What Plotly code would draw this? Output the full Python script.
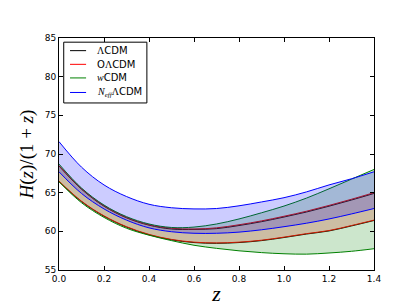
import plotly.graph_objects as go

z = [0.0, 0.1, 0.2, 0.3, 0.4, 0.5, 0.6, 0.7, 0.8, 0.9, 1.0, 1.1, 1.2, 1.3, 1.4]

lcdm_lo = [66.45, 63.85, 61.95, 60.55, 59.55, 58.9, 58.55, 58.45, 58.55, 58.8, 59.2, 59.65, 60.05, 60.7, 61.4]
lcdm_hi = [68.45, 65.45, 63.25, 61.75, 60.8, 60.3, 60.25, 60.35, 60.75, 61.25, 61.85, 62.5, 63.25, 64.05, 64.9]
olcdm_lo = [66.5, 63.9, 62.0, 60.6, 59.6, 58.95, 58.6, 58.5, 58.6, 58.85, 59.25, 59.7, 60.1, 60.75, 61.45]
olcdm_hi = [68.5, 65.5, 63.3, 61.8, 60.85, 60.4, 60.3, 60.45, 60.85, 61.35, 61.95, 62.6, 63.35, 64.15, 65.0]
wcdm_lo = [66.4, 63.7, 61.8, 60.4, 59.5, 58.8, 58.2, 57.8, 57.48, 57.25, 57.1, 57.05, 57.2, 57.42, 57.75]
wcdm_hi = [68.7, 65.6, 63.4, 61.9, 60.95, 60.5, 60.55, 60.95, 61.6, 62.4, 63.27, 64.3, 65.5, 66.75, 68.0]
neff_lo = [67.7, 64.9, 62.9, 61.45, 60.45, 59.95, 59.75, 59.75, 59.9, 60.2, 60.6, 61.05, 61.6, 62.25, 62.95]
neff_hi = [71.6, 68.3, 66.0, 64.5, 63.5, 63.05, 62.9, 62.95, 63.3, 63.8, 64.35, 65.1, 66.0, 66.8, 67.7]

x_ticks = [0.0, 0.2, 0.4, 0.6, 0.8, 1.0, 1.2, 1.4]
x_ticklabels = ["0.0", "0.2", "0.4", "0.6", "0.8", "1.0", "1.2", "1.4"]
y_ticks = [55, 60, 65, 70, 75, 80, 85]

SER = "Liberation Serif"
names = [
    f"<span style='font-family:{SER}'>Λ</span>CDM",
    f"O<span style='font-family:{SER}'>Λ</span>CDM",
    f"<span style='font-family:{SER}'><i>w</i></span>CDM",
    f"<span style='font-family:{SER}'><i>N</i><sub><i>eff</i></sub>Λ</span>CDM",
]
models = [
    (lcdm_lo, lcdm_hi, "black", None),
    (olcdm_lo, olcdm_hi, "red", "rgba(255,0,0,0.2)"),
    (wcdm_lo, wcdm_hi, "green", "rgba(0,128,0,0.2)"),
    (neff_lo, neff_hi, "blue", "rgba(0,0,255,0.2)"),
]

fig = go.Figure()
for name, (lo, hi, col, fc) in zip(names, models):
    fig.add_trace(go.Scatter(x=z, y=lo, mode="lines", name=name,
                             line=dict(color=col, width=1, shape="spline", smoothing=1.0),
                             showlegend=False))
    fig.add_trace(go.Scatter(x=z, y=hi, mode="lines",
                             fill="tonexty" if fc else "none", fillcolor=fc,
                             line=dict(color=col, width=1, shape="spline", smoothing=1.0),
                             showlegend=False))

# compact legend (matplotlib style), placed in paper coordinates
shapes = [dict(type="rect", xref="paper", yref="paper", x0=0.015, x1=0.279, y0=0.720, y1=0.982,
               fillcolor="white", line=dict(color="black", width=1), layer="above")]
annotations = []
leg_y = [0.9455, 0.8865, 0.8279, 0.7652]
for name, (lo, hi, col, fc), yy in zip(names, models, leg_y):
    shapes.append(dict(type="line", xref="paper", yref="paper", x0=0.035, x1=0.086, y0=yy, y1=yy,
                       line=dict(color=col, width=1), layer="above"))
    annotations.append(dict(xref="paper", yref="paper", x=0.115, y=yy, xanchor="left", yanchor="middle",
                            text=name, showarrow=False,
                            font=dict(family="DejaVu Sans", size=10, color="black")))

axis_common = dict(showline=True, linecolor="black", linewidth=1, mirror="ticks",
                   ticks="inside", ticklen=4, tickcolor="black", showgrid=False,
                   zeroline=False, tickfont=dict(family="DejaVu Sans", size=9, color="black"))

fig.update_xaxes(range=[0, 1.4], tickvals=x_ticks, ticktext=x_ticklabels,
                 title=dict(text="<i>z</i>", font=dict(family=SER, size=22, color="black"), standoff=2),
                 **axis_common)
fig.update_yaxes(range=[55, 85], tickvals=y_ticks,
                 title=dict(text="<i>H</i>(<i>z</i>)/(1 + <i>z</i>)", font=dict(family=SER, size=19, color="black"), standoff=6),
                 **axis_common)

fig.update_layout(
    width=407, height=305,
    margin=dict(l=51, r=41, t=30, b=31),
    plot_bgcolor="white", paper_bgcolor="white",
    shapes=shapes, annotations=annotations,
    showlegend=False,
)

fig.write_html("out.html")
